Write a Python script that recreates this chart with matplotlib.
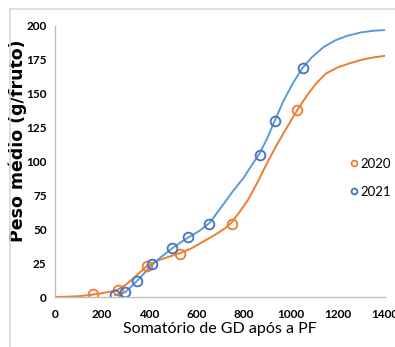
import matplotlib.pyplot as plt
from matplotlib.patches import Rectangle

# observed points (markers)
gd_2020 = [162, 268, 391, 532, 749, 1028]
peso_2020 = [2, 5, 23, 32, 54, 138]
gd_2021 = [255, 298, 349, 413, 498, 566, 655, 868, 932, 1050]
peso_2021 = [1.5, 3.5, 12, 24, 36, 44, 54, 105, 130, 169]

# fitted curves
curve_x_2020 = [0, 50, 100, 150, 200, 250, 268, 300, 340, 391, 430, 480, 532, 580, 630, 680, 720, 749,
                780, 820, 860, 900, 940, 980, 1028, 1070, 1110, 1150, 1200, 1250, 1300, 1350, 1400]
curve_y_2020 = [0, 0.2, 0.6, 1.5, 2.8, 4.5, 5.5, 9, 15, 23, 26.5, 29.5, 32.5, 36, 41, 46, 50.5, 55,
                62, 72, 85, 99, 112, 124, 138, 149, 158, 165, 169.5, 172.5, 175, 176.8, 178]
curve_x_2021 = [255, 298, 349, 413, 450, 498, 530, 566, 610, 655, 700, 750, 800, 830, 868, 900, 932,
                970, 1010, 1050, 1090, 1140, 1190, 1240, 1300, 1350, 1400]
curve_y_2021 = [1.5, 3.5, 12, 24, 29.5, 36, 40, 44, 48.5, 54.5, 65, 77, 88, 96, 106, 117, 130,
                145, 158, 169, 177, 184.5, 189.5, 192.8, 195.3, 196.5, 197]

xticks = [0, 200, 400, 600, 800, 1000, 1200, 1400]
yticks = [0, 25, 50, 75, 100, 125, 150, 175, 200]

orange = '#ED7D31'
blue_line = '#5B9BD5'
blue_mk = '#4472C4'

fig = plt.figure(figsize=(3.95, 3.47), dpi=100)
fig.patches.append(Rectangle((10/395, -0.1), 1.2, 1 - 9/347 + 0.1, transform=fig.transFigure,
                             fill=False, edgecolor='#d9d9d9', lw=1.2))
ax = fig.add_axes([55/395, 1 - 297/347, 330/395, 271/347])

ax.plot(curve_x_2020, curve_y_2020, color=orange, lw=1.4)
ax.plot(curve_x_2021, curve_y_2021, color=blue_line, lw=1.4)
ax.plot(gd_2020, peso_2020, 'o', ms=7, mfc='none', mec=orange, mew=1.3, label='2020')
ax.plot(gd_2021, peso_2021, 'o', ms=7, mfc='none', mec=blue_mk, mew=1.3, label='2021')

ax.set_xlim(0, 1400)
ax.set_ylim(0, 200)
ax.set_xticks(xticks)
ax.set_yticks(yticks)
for s in ['top', 'right']:
    ax.spines[s].set_visible(False)
for s in ['left', 'bottom']:
    ax.spines[s].set_color('#bfbfbf')
    ax.spines[s].set_linewidth(1.0)
ax.tick_params(length=0, labelsize=8.5)
ax.tick_params(axis='x', pad=9)
ax.tick_params(axis='y', pad=6)
for lab in ax.get_xticklabels() + ax.get_yticklabels():
    lab.set_fontfamily('Lato')
    lab.set_fontweight('bold')

ax.set_xlabel('Somatório de GD após a PF', fontsize=11.5, family='Lato', labelpad=1)
ax.set_ylabel('Peso médio (g/fruto)', fontsize=12.5, family='DejaVu Sans', fontweight='bold',
              va='center')
ax.yaxis.set_label_coords(-0.112, 0.576)

ax.legend(loc='center left', bbox_to_anchor=(0.88, 0.44), frameon=False,
          handlelength=0.5, handletextpad=0.25, labelspacing=1.25, markerscale=0.6,
          borderaxespad=0, prop={'family': 'Lato', 'size': 9.5})

fig.savefig('out.png', dpi=100)
